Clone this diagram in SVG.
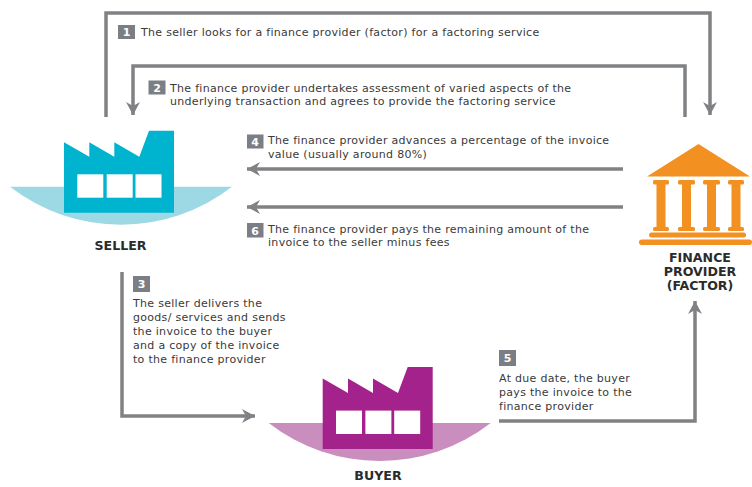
<svg xmlns="http://www.w3.org/2000/svg" xmlns:xlink="http://www.w3.org/1999/xlink" width="752" height="487" viewBox="0 0 752 487">
<style>
.bg{fill:#ffffff}
.conn{fill:none;stroke:#808184;stroke-width:3.5;stroke-linejoin:miter}
.txt{font-family:"DejaVu Sans","Liberation Sans",sans-serif;font-size:11px;letter-spacing:0.3px;fill:#3a3a3a}
.lbl{font-family:"DejaVu Sans","Liberation Sans",sans-serif;font-size:12.6px;font-weight:bold;fill:#2b2b2b;text-anchor:middle}
.badge{fill:#7b7e84}
.num{font-family:"DejaVu Sans","Liberation Sans",sans-serif;font-size:11px;font-weight:bold;fill:#ffffff;text-anchor:middle}
.bank{fill:#f29021}
.win{fill:#ffffff}
</style>
<defs>
<marker id="ah" markerUnits="userSpaceOnUse" markerWidth="30" markerHeight="30" refX="0" refY="0" orient="auto" overflow="visible">
<path d="M0,0 L-13,-7 L-9,0 L-13,7 Z" fill="#808184"/>
</marker>
<path id="factory" d="M64,142.3 L89.3,156.7 L89.3,142.3 L114.3,156.7 L114.3,142.3 L139.3,156.7 L149,130.7 L174,130.7 L174,212.7 L64,212.7 Z"/>
<path id="bowl" d="M10,186.7 A181,181 0 0 0 232,186.7 Z"/>
<g id="windows">
<rect class="win" x="77.3" y="174.3" width="26" height="23.4"/>
<rect class="win" x="106.7" y="174.3" width="26" height="23.4"/>
<rect class="win" x="135.5" y="174.3" width="26" height="23.4"/>
</g>
</defs>
<rect class="bg" x="0" y="0" width="752" height="487"/>

<g id="connectors">
<path class="conn" d="M106,117 V13 H710 V115" marker-end="url(#ah)"/>
<path class="conn" d="M685,117 V66 H133 V115" marker-end="url(#ah)"/>
<path class="conn" d="M623,169 H247" marker-end="url(#ah)"/>
<path class="conn" d="M623,207 H247" marker-end="url(#ah)"/>
<path class="conn" d="M122,272 V416 H255" marker-end="url(#ah)"/>
<path class="conn" d="M499,421 H695 V301" marker-end="url(#ah)"/>
</g>

<g id="seller">
<use xlink:href="#bowl" href="#bowl" fill="#9dd9e5"/>
<use xlink:href="#factory" href="#factory" fill="#00b4d0"/>
<use xlink:href="#windows" href="#windows"/>
<text class="lbl" x="120.5" y="250">SELLER</text>
</g>

<g id="buyer" transform="translate(258.7,236.3)">
<use xlink:href="#bowl" href="#bowl" fill="#c98dbe"/>
<use xlink:href="#factory" href="#factory" fill="#a4228b"/>
<use xlink:href="#windows" href="#windows"/>
<text class="lbl" x="119.3" y="243.7">BUYER</text>
</g>

<g id="finance-provider">
<polygon class="bank" points="698.5,144 647,176.5 750,176.5"/>
<rect class="bank" x="653" y="180" width="16" height="4.5" rx="1.5"/>
<rect class="bank" x="678" y="180" width="17" height="4.5" rx="1.5"/>
<rect class="bank" x="703" y="180" width="17" height="4.5" rx="1.5"/>
<rect class="bank" x="728" y="180" width="16" height="4.5" rx="1.5"/>
<rect class="bank" x="656.5" y="184" width="9" height="44"/>
<rect class="bank" x="682" y="184" width="9" height="44"/>
<rect class="bank" x="707" y="184" width="9" height="44"/>
<rect class="bank" x="731.5" y="184" width="9" height="44"/>
<rect class="bank" x="653" y="227" width="16" height="4" rx="1.5"/>
<rect class="bank" x="678" y="227" width="17" height="4" rx="1.5"/>
<rect class="bank" x="703" y="227" width="17" height="4" rx="1.5"/>
<rect class="bank" x="728" y="227" width="16" height="4" rx="1.5"/>
<rect class="bank" x="649" y="232.5" width="97" height="5" rx="2.5"/>
<rect class="bank" x="639" y="239.5" width="113" height="5.5" rx="2.75"/>
<text class="lbl" x="700" y="262">FINANCE</text>
<text class="lbl" x="700" y="276">PROVIDER</text>
<text class="lbl" x="700" y="290">(FACTOR)</text>
</g>

<g id="label-1">
<rect class="badge" x="118" y="25" width="17" height="14"/>
<text class="num" x="126.5" y="36.3">1</text>
<text class="txt" x="141" y="36">The seller looks for a finance provider (factor) for a factoring service</text>
</g>

<g id="label-2">
<rect class="badge" x="148.5" y="80.5" width="17" height="14"/>
<text class="num" x="157" y="91.8">2</text>
<text class="txt" x="170" y="91.5">The finance provider undertakes assessment of varied aspects of the</text>
<text class="txt" x="170" y="105">underlying transaction and agrees to provide the factoring service</text>
</g>

<g id="label-3">
<rect class="badge" x="133" y="276" width="17" height="16"/>
<text class="num" x="141.5" y="288.3">3</text>
<text class="txt" x="133" y="306.5">The seller delivers the</text>
<text class="txt" x="133" y="320.5">goods/ services and sends</text>
<text class="txt" x="133" y="334.5">the invoice to the buyer</text>
<text class="txt" x="133" y="348.5">and a copy of the invoice</text>
<text class="txt" x="133" y="362.5">to the finance provider</text>
</g>

<g id="label-4">
<rect class="badge" x="247" y="134.5" width="16.5" height="14"/>
<text class="num" x="255.2" y="145.8">4</text>
<text class="txt" x="268" y="144">The finance provider advances a percentage of the invoice</text>
<text class="txt" x="268" y="157.5">value (usually around 80%)</text>
</g>

<g id="label-6">
<rect class="badge" x="247" y="223" width="16.5" height="14.5"/>
<text class="num" x="255.2" y="234.5">6</text>
<text class="txt" x="268" y="232.5">The finance provider pays the remaining amount of the</text>
<text class="txt" x="268" y="246">invoice to the seller minus fees</text>
</g>

<g id="label-5">
<rect class="badge" x="499" y="350" width="17" height="16"/>
<text class="num" x="507.5" y="362.3">5</text>
<text class="txt" x="499" y="381.5">At due date, the buyer</text>
<text class="txt" x="499" y="395.5">pays the invoice to the</text>
<text class="txt" x="499" y="409.5">finance provider</text>
</g>
</svg>
